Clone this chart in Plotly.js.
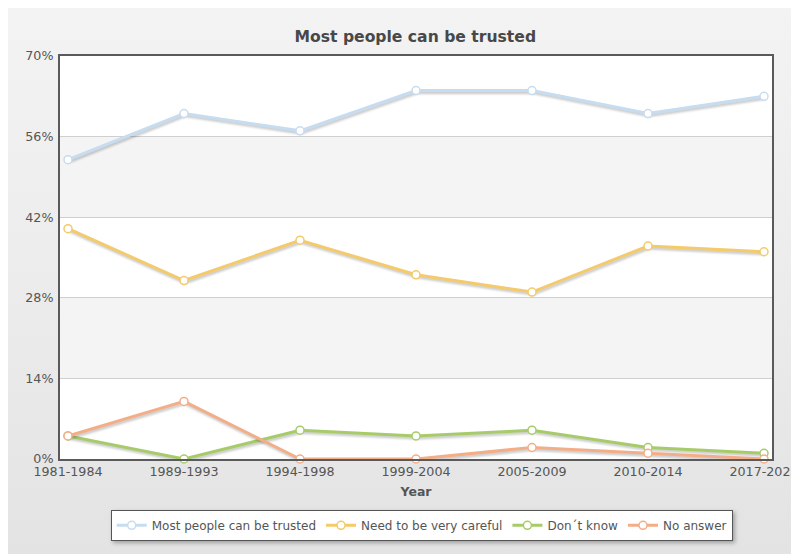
<!DOCTYPE html>
<html>
<head>
<meta charset="utf-8">
<script src="https://cdn.plot.ly/plotly-3.0.1.min.js"></script>
<style>
  html, body { margin: 0; padding: 0; background: #ffffff; }
  #wrap { position: relative; width: 791px; height: 554px; overflow: hidden; }
  #bg { position: absolute; left: 8px; top: 8px; right: 0; bottom: 0;
        background: linear-gradient(to bottom, #f3f3f3 0%, #ececec 50%, #e3e3e3 100%); }
  #chart { position: absolute; left: 0; top: 0; width: 791px; height: 554px; }
  #chart .scatterlayer .js-line { filter: drop-shadow(1px 2px 1px rgba(0,0,0,0.22)); }
  #chart .legend .bg { filter: drop-shadow(2px 2px 2px rgba(0,0,0,0.3)); }
</style>
</head>
<body>
<div id="wrap">
  <div id="bg"></div>
  <div id="chart"></div>
</div>
<script>
// Survey waves
const waves = ['1981-1984', '1989-1993', '1994-1998', '1999-2004', '2005-2009', '2010-2014', '2017-2020'];

// Share of answers per wave (%)
const trusted      = [52, 60, 57, 64, 64, 60, 63];
const careful      = [40, 31, 38, 32, 29, 37, 36];
const dontKnow     = [4, 0, 5, 4, 5, 2, 1];
const noAnswer     = [4, 10, 0, 0, 2, 1, 0];

const seriesNames  = ['Most people can be trusted', 'Need to be very careful', 'Don\u00b4t know', 'No answer'];
const seriesColors = ['#c6dcf0', '#f4ca6a', '#a8cb6a', '#f3ae88'];

// Y axis ticks (%)
const yTicks = [0, 14, 28, 42, 56, 70];

const font = 'DejaVu Sans, Verdana, sans-serif';

const traces = [trusted, careful, dontKnow, noAnswer].map((vals, i) => ({
  type: 'scatter',
  mode: 'lines+markers',
  name: seriesNames[i],
  x: waves,
  y: vals,
  cliponaxis: false,
  line: { color: seriesColors[i], width: 3 },
  marker: { symbol: 'circle', size: 8, color: '#ffffff', line: { color: seriesColors[i], width: 1.5 } },
  hoverinfo: 'x+y+name'
}));

// Alternating shaded bands between gridlines
const bands = [];
for (let k = 1; k < yTicks.length - 1; k += 2) {
  bands.push({
    type: 'rect', layer: 'below', xref: 'paper', yref: 'y',
    x0: 0, x1: 1, y0: yTicks[k], y1: yTicks[k + 1],
    fillcolor: '#f4f4f4', line: { width: 0 }
  });
}

const layout = {
  width: 791,
  height: 554,
  paper_bgcolor: 'rgba(0,0,0,0)',
  plot_bgcolor: '#ffffff',
  margin: { l: 60, r: 19, t: 56, b: 95 },
  font: { family: font, size: 12, color: '#555555' },
  title: {
    text: 'Most people can be trusted',
    font: { family: font, size: 15.6, color: '#484848', weight: 'bold' },
    x: 0.525, xanchor: 'center', y: 0.934, yanchor: 'middle'
  },
  xaxis: {
    type: 'category',
    range: [-0.069, 6.069],
    showgrid: false,
    zeroline: false,
    showline: true, linecolor: '#5a5a5a', linewidth: 2, mirror: true,
    ticks: '',
    tickfont: { family: font, size: 12.7, color: '#555555' },
    title: { text: 'Year', font: { family: font, size: 12.5, color: '#555555', weight: 'bold' }, standoff: 9 }
  },
  yaxis: {
    range: [0, 70],
    tickvals: yTicks,
    ticktext: yTicks.map(v => v + '%'),
    showgrid: true, gridcolor: '#cfcfcf', gridwidth: 1,
    zeroline: false,
    showline: true, linecolor: '#5a5a5a', linewidth: 2, mirror: true,
    ticks: '',
    ticklabelstandoff: 2,
    tickfont: { family: font, size: 12.7, color: '#555555' }
  },
  shapes: bands,
  showlegend: true,
  legend: {
    orientation: 'h',
    x: 0.508, xanchor: 'center',
    y: -0.126, yanchor: 'top',
    bgcolor: '#ffffff',
    bordercolor: '#555555',
    borderwidth: 1,
    font: { family: font, size: 12, color: '#555555' },
    itemwidth: 30
  }
};

Plotly.newPlot('chart', traces, layout, { displayModeBar: false, responsive: false });
</script>
</body>
</html>
